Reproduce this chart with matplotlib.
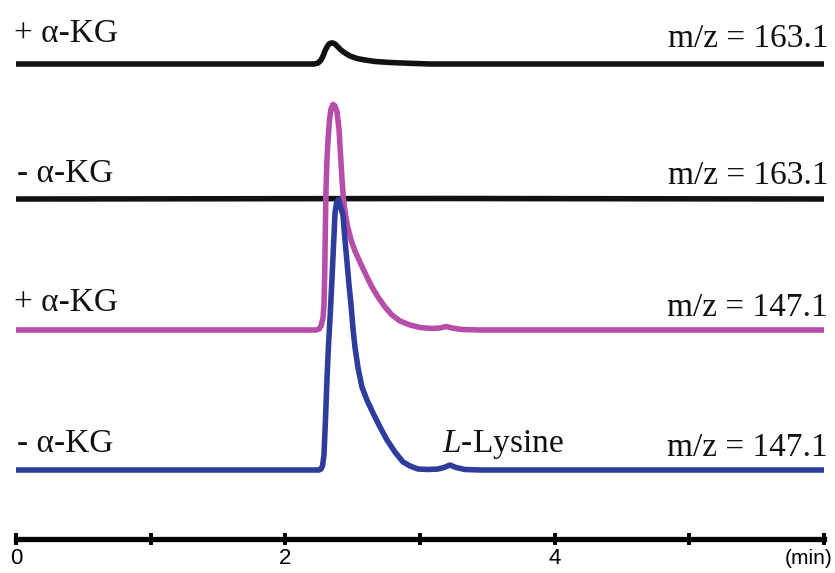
import matplotlib
matplotlib.use("Agg")
import matplotlib.pyplot as plt

# ---------------- data (time in min, signal in relative units) ----------------
top_t = [0.0, 2.213, 2.243, 2.265, 2.280, 2.294, 2.309, 2.324, 2.339, 2.354,
         2.369, 2.391, 2.413, 2.443, 2.480, 2.532, 2.592, 2.666, 2.777, 2.926,
         3.074, 6.0]
top_i = [0, 0, 1, 4, 8, 13, 17, 20, 21, 21,
         20, 17, 14, 11, 8, 5.5, 4, 2.5, 1.5, 0.7,
         0, 0]

ctrl163_t = [0.0, 3.186, 6.0]
ctrl163_i = [0, 0.5, 0]

mag_t = [0.0, 2.228, 2.250, 2.265, 2.280, 2.287, 2.293, 2.297, 2.302, 2.309,
         2.317, 2.328, 2.339, 2.354, 2.369, 2.384, 2.399, 2.410, 2.421, 2.432,
         2.447, 2.465, 2.488, 2.517, 2.554, 2.599, 2.643, 2.688, 2.740, 2.792,
         2.851, 2.926, 3.000, 3.089, 3.148, 3.193, 3.238, 3.312, 3.445, 6.0]
mag_i = [0, 0, 1, 4, 12, 25, 60, 100, 140, 170,
         190, 210, 221, 225.5, 224, 218, 200, 175, 150, 130,
         115, 102, 90, 79, 68, 55, 43, 33, 23, 15,
         9, 5, 2.5, 1.5, 2, 3.5, 2, 0.5, 0, 0]

blue_t = [0.0, 2.250, 2.265, 2.276, 2.287, 2.298, 2.309, 2.320, 2.335, 2.346,
          2.358, 2.369, 2.380, 2.395, 2.413, 2.428, 2.443, 2.458, 2.473, 2.488,
          2.502, 2.517, 2.540, 2.569, 2.606, 2.651, 2.703, 2.755, 2.814, 2.874,
          2.926, 2.985, 3.059, 3.134, 3.178, 3.223, 3.267, 3.334, 3.445, 6.0]
blue_i = [0, 0, 1, 4, 15, 50, 90, 123, 160, 190,
          225, 257, 267, 270.5, 262, 255, 230, 208, 185, 165,
          142, 123, 102, 83, 70, 57, 43, 30, 18, 8,
          4, 1, 0.5, 1, 2.5, 5, 2.5, 0.5, 0, 0]

tick_pos = [0, 1, 2, 3, 4, 5, 6]
tick_lab = ["0", "", "2", "", "4", "", ""]

left_labels = ["+ \u03b1-KG", "- \u03b1-KG", "+ \u03b1-KG", "- \u03b1-KG"]
right_labels = ["m/z = 163.1", "m/z = 163.1", "m/z = 147.1", "m/z = 147.1"]

# ---------------- figure ----------------
W, H = 835, 573
fig = plt.figure(figsize=(W / 100, H / 100), dpi=100)
fig.patch.set_facecolor("white")
ax = fig.add_axes([16 / W, 0, 808 / W, 1])
ax.set_xlim(0, 6)
ax.set_ylim(0, H)
ax.patch.set_alpha(0)

traces = [
    (top_t, top_i, 509, "#111111"),
    (ctrl163_t, ctrl163_i, 374, "#111111"),
    (mag_t, mag_i, 243, "#B54DA9"),
    (blue_t, blue_i, 103, "#2E3D9B"),
]
for t, i, base, col in traces:
    ax.plot(t, [base + v for v in i], color=col, lw=4.0,
            solid_joinstyle="round", solid_capstyle="butt", clip_on=False)

# axis
for s in ["top", "left", "right"]:
    ax.spines[s].set_visible(False)
ax.spines["bottom"].set_position(("data", 34))
ax.spines["bottom"].set_linewidth(3.8)
ax.spines["bottom"].set_color("black")
ax.set_yticks([])
ax.set_xticks(tick_pos)
ax.set_xticklabels(tick_lab)
ax.tick_params(axis="x", direction="inout", length=9, width=2.8,
               pad=2, labelsize=16, colors="black")
for lab in ax.get_xticklabels():
    lab.set_fontfamily("Liberation Sans")

fig.text(833 / W, 1 - 564 / H, "(min)", ha="right", va="baseline",
         fontsize=15, family="Liberation Sans")

serif = ["Liberation Serif", "DejaVu Serif"]
left_pos = [(14, 42), (17, 182), (14, 311), (17, 452)]
right_pos = [(828, 47), (828, 184), (828, 316), (828, 456)]
for (x, y), s in zip(left_pos, left_labels):
    fig.text(x / W, 1 - y / H, s, ha="left", va="baseline", fontsize=24,
             family=serif, color="#111111")
for (x, y), s in zip(right_pos, right_labels):
    fig.text(x / W, 1 - y / H, s, ha="right", va="baseline", fontsize=24,
             family=serif, color="#111111")

plt.rcParams["mathtext.fontset"] = "custom"
plt.rcParams["mathtext.it"] = "Liberation Serif:italic"
plt.rcParams["mathtext.rm"] = "Liberation Serif"
fig.text(442 / W, 1 - 452 / H, r"$\mathit{L}$-Lysine", ha="left",
         va="baseline", fontsize=24, family=serif, color="#111111")

fig.savefig("out.png", dpi=100, facecolor="white")
